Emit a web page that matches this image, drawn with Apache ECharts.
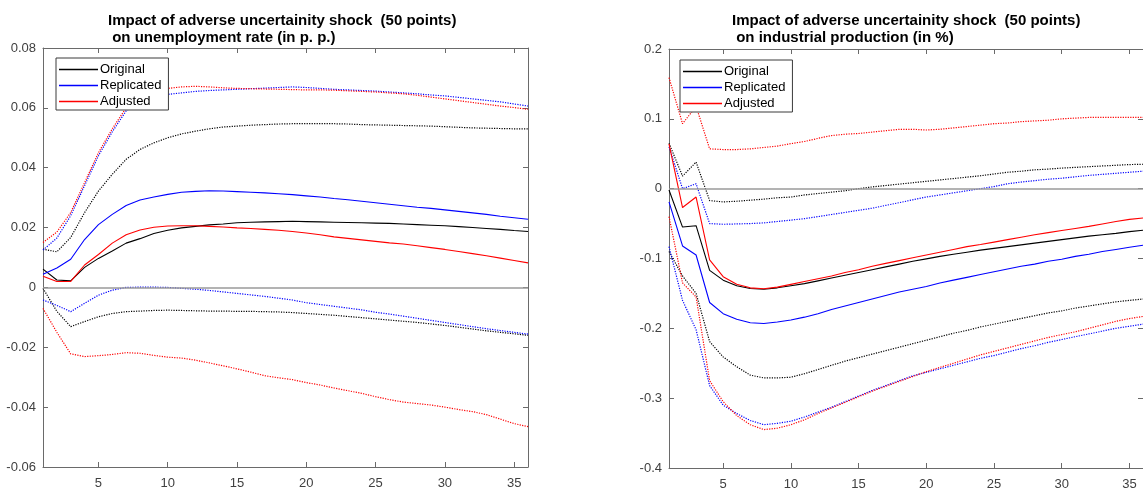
<!DOCTYPE html>
<html>
<head>
<meta charset="utf-8">
<script src="https://cdn.jsdelivr.net/npm/echarts@6/dist/echarts.min.js"></script>
<style>
  html, body { margin: 0; padding: 0; background: #fff; }
  #chart { width: 1143px; height: 491px; }
</style>
</head>
<body>
<div id="chart"></div>
<script>
// Horizon (months after the shock)
const periods = [1,2,3,4,5,6,7,8,9,10,11,12,13,14,15,16,17,18,19,20,21,22,23,24,25,26,27,28,29,30,31,32,33,34,35,36];
const xTickValues = [5,10,15,20,25,30,35];
const legendNames = ['Original', 'Replicated', 'Adjusted'];

// Unemployment rate response (p. p.)
const unempOriginal = [0.0061,0.0025,0.0022,0.0067,0.0097,0.0122,0.0148,0.0163,0.0180,0.0191,0.0199,0.0204,0.0209,0.0212,0.0216,0.0218,0.0219,0.0220,0.0221,0.0220,0.0219,0.0218,0.0217,0.0216,0.0215,0.0214,0.0212,0.0210,0.0208,0.0206,0.0203,0.0200,0.0197,0.0194,0.0190,0.0187];
const unempOriginalHi = [0.0128,0.0119,0.0167,0.0250,0.0322,0.0378,0.0428,0.0461,0.0483,0.0500,0.0513,0.0522,0.0530,0.0536,0.0539,0.0542,0.0544,0.0546,0.0547,0.0547,0.0547,0.0547,0.0546,0.0544,0.0543,0.0542,0.0541,0.0540,0.0539,0.0537,0.0535,0.0533,0.0532,0.0531,0.0530,0.0530];
const unempOriginalLo = [-0.0003,-0.0080,-0.0131,-0.0114,-0.0098,-0.0087,-0.0081,-0.0079,-0.0077,-0.0076,-0.0077,-0.0078,-0.0079,-0.0079,-0.0080,-0.0080,-0.0081,-0.0082,-0.0084,-0.0087,-0.0090,-0.0093,-0.0097,-0.0101,-0.0105,-0.0109,-0.0113,-0.0117,-0.0122,-0.0127,-0.0133,-0.0139,-0.0145,-0.0150,-0.0155,-0.0160];
const unempReplicated = [0.0044,0.0065,0.0094,0.0160,0.0210,0.0244,0.0274,0.0292,0.0302,0.0311,0.0318,0.0321,0.0323,0.0322,0.0320,0.0318,0.0316,0.0313,0.0310,0.0306,0.0302,0.0297,0.0293,0.0288,0.0283,0.0278,0.0273,0.0268,0.0264,0.0259,0.0254,0.0249,0.0244,0.0238,0.0233,0.0228];
const unempReplicatedHi = [0.0125,0.0165,0.0240,0.0340,0.0440,0.0520,0.0590,0.0625,0.0640,0.0645,0.0650,0.0655,0.0658,0.0660,0.0662,0.0664,0.0666,0.0668,0.0670,0.0668,0.0665,0.0662,0.0660,0.0658,0.0656,0.0653,0.0650,0.0647,0.0643,0.0640,0.0635,0.0630,0.0625,0.0620,0.0613,0.0606];
const unempReplicatedLo = [-0.0042,-0.0060,-0.0081,-0.0053,-0.0026,-0.0009,0.0000,0.0001,0.0001,0.0000,-0.0003,-0.0006,-0.0010,-0.0015,-0.0020,-0.0025,-0.0030,-0.0036,-0.0042,-0.0051,-0.0057,-0.0063,-0.0069,-0.0075,-0.0083,-0.0089,-0.0096,-0.0103,-0.0110,-0.0117,-0.0124,-0.0131,-0.0138,-0.0144,-0.0150,-0.0156];
const unempAdjusted = [0.0037,0.0020,0.0020,0.0075,0.0110,0.0148,0.0176,0.0192,0.0201,0.0205,0.0206,0.0206,0.0204,0.0202,0.0199,0.0197,0.0194,0.0191,0.0187,0.0182,0.0176,0.0169,0.0164,0.0159,0.0154,0.0149,0.0145,0.0139,0.0133,0.0127,0.0120,0.0113,0.0106,0.0098,0.0090,0.0082];
const unempAdjustedHi = [0.0150,0.0185,0.0250,0.0350,0.0450,0.0530,0.0600,0.0635,0.0655,0.0665,0.0670,0.0672,0.0670,0.0667,0.0665,0.0664,0.0663,0.0662,0.0661,0.0660,0.0660,0.0659,0.0657,0.0655,0.0653,0.0650,0.0647,0.0642,0.0636,0.0630,0.0624,0.0618,0.0612,0.0606,0.0601,0.0595];
const unempAdjustedLo = [-0.0070,-0.0150,-0.0222,-0.0231,-0.0228,-0.0224,-0.0218,-0.0220,-0.0227,-0.0233,-0.0236,-0.0243,-0.0252,-0.0262,-0.0272,-0.0283,-0.0295,-0.0302,-0.0308,-0.0318,-0.0326,-0.0336,-0.0345,-0.0354,-0.0365,-0.0375,-0.0383,-0.0388,-0.0393,-0.0400,-0.0408,-0.0415,-0.0425,-0.0440,-0.0455,-0.0465];

// Industrial production response (%)
const ipOriginal = [-0.002,-0.055,-0.053,-0.117,-0.131,-0.139,-0.143,-0.144,-0.142,-0.139,-0.136,-0.132,-0.128,-0.124,-0.120,-0.116,-0.112,-0.108,-0.104,-0.1005,-0.097,-0.094,-0.091,-0.088,-0.0855,-0.083,-0.0805,-0.078,-0.0755,-0.073,-0.0705,-0.068,-0.066,-0.064,-0.0615,-0.0595];
const ipOriginalHi = [0.065,0.018,0.038,-0.017,-0.019,-0.018,-0.0165,-0.015,-0.013,-0.012,-0.009,-0.007,-0.005,-0.003,0.000,0.0025,0.0045,0.0065,0.0085,0.0105,0.0125,0.0145,0.0165,0.0185,0.021,0.0235,0.025,0.027,0.028,0.0295,0.0305,0.0315,0.0325,0.0335,0.0345,0.035];
const ipOriginalLo = [-0.090,-0.125,-0.150,-0.219,-0.241,-0.255,-0.267,-0.271,-0.271,-0.270,-0.265,-0.259,-0.253,-0.247,-0.242,-0.237,-0.232,-0.227,-0.222,-0.217,-0.212,-0.207,-0.203,-0.198,-0.194,-0.190,-0.186,-0.182,-0.178,-0.175,-0.171,-0.168,-0.165,-0.162,-0.160,-0.158];
const ipReplicated = [-0.019,-0.082,-0.095,-0.163,-0.179,-0.187,-0.192,-0.193,-0.191,-0.188,-0.184,-0.179,-0.173,-0.168,-0.163,-0.158,-0.153,-0.148,-0.144,-0.140,-0.135,-0.131,-0.127,-0.123,-0.119,-0.115,-0.111,-0.108,-0.104,-0.101,-0.097,-0.094,-0.090,-0.087,-0.084,-0.081];
const ipReplicatedHi = [0.060,0.000,0.007,-0.050,-0.051,-0.0505,-0.050,-0.049,-0.047,-0.045,-0.043,-0.040,-0.037,-0.034,-0.031,-0.028,-0.024,-0.020,-0.016,-0.012,-0.009,-0.006,-0.003,0.000,0.003,0.007,0.0095,0.0115,0.0135,0.015,0.017,0.019,0.0205,0.022,0.0235,0.025];
const ipReplicatedLo = [-0.083,-0.160,-0.202,-0.282,-0.310,-0.322,-0.332,-0.338,-0.336,-0.333,-0.327,-0.320,-0.313,-0.305,-0.297,-0.289,-0.282,-0.275,-0.268,-0.263,-0.258,-0.253,-0.248,-0.243,-0.239,-0.234,-0.229,-0.225,-0.220,-0.216,-0.212,-0.208,-0.204,-0.200,-0.197,-0.194];
const ipAdjusted = [0.064,-0.027,-0.012,-0.102,-0.126,-0.137,-0.142,-0.1433,-0.141,-0.137,-0.133,-0.129,-0.125,-0.120,-0.116,-0.111,-0.107,-0.103,-0.099,-0.095,-0.091,-0.087,-0.083,-0.080,-0.0765,-0.073,-0.0695,-0.066,-0.063,-0.060,-0.057,-0.054,-0.0505,-0.047,-0.044,-0.042];
const ipAdjustedHi = [0.159,0.093,0.118,0.057,0.056,0.056,0.057,0.059,0.061,0.0645,0.0675,0.072,0.076,0.078,0.079,0.081,0.083,0.085,0.085,0.084,0.085,0.087,0.089,0.091,0.093,0.094,0.096,0.097,0.098,0.100,0.101,0.102,0.102,0.102,0.102,0.102];
const ipAdjustedLo = [-0.040,-0.135,-0.155,-0.275,-0.305,-0.325,-0.338,-0.345,-0.343,-0.338,-0.331,-0.322,-0.314,-0.306,-0.298,-0.290,-0.283,-0.276,-0.269,-0.262,-0.256,-0.250,-0.244,-0.238,-0.233,-0.228,-0.223,-0.218,-0.213,-0.209,-0.205,-0.200,-0.195,-0.190,-0.186,-0.183];

const FONT = 'Liberation Sans, Arial, sans-serif';
const AXIS_COLOR = '#6a6a6a';
const LABEL_COLOR = '#404040';
const COLORS = { Original: '#000000', Replicated: '#0000ff', Adjusted: '#ff0000' };

function toPoints(values) {
  return periods.map((p, i) => [p, values[i]]);
}

function lineSeries(name, color, values, dotted, panel) {
  return {
    type: 'line',
    name: name,
    xAxisIndex: panel * 2,
    yAxisIndex: panel * 2,
    data: toPoints(values),
    symbol: 'none',
    showSymbol: false,
    animation: false,
    silent: true,
    z: dotted ? 2 : 3,
    itemStyle: { color: color },
    lineStyle: dotted
      ? { color: color, width: 1.2, type: [1.2, 1.3] }
      : { color: color, width: 1.1, type: 'solid' }
  };
}

function zeroLine(panel) {
  return {
    type: 'line',
    name: 'zero',
    xAxisIndex: panel * 2,
    yAxisIndex: panel * 2,
    data: [],
    symbol: 'none',
    animation: false,
    silent: true,
    z: 1,
    markLine: {
      silent: true,
      symbol: 'none',
      animation: false,
      label: { show: false },
      lineStyle: { color: '#9a9a9a', width: 1.6, type: 'solid' },
      data: [{ yAxis: 0 }]
    }
  };
}

function panelAxes(panel, yMin, yMax, yStep, decimals) {
  const xMain = {
    type: 'value', gridIndex: panel, min: 1, max: 36, position: 'bottom',
    axisLine: { show: true, onZero: false, lineStyle: { color: AXIS_COLOR, width: 1 } },
    axisTick: { show: true, inside: true, length: 5, customValues: xTickValues, lineStyle: { color: AXIS_COLOR } },
    axisLabel: { show: true, customValues: xTickValues, margin: 10, color: LABEL_COLOR, fontFamily: FONT, fontSize: 13 },
    splitLine: { show: false }
  };
  const xMirror = {
    type: 'value', gridIndex: panel, min: 1, max: 36, position: 'top',
    axisLine: { show: true, onZero: false, lineStyle: { color: AXIS_COLOR, width: 1 } },
    axisTick: { show: true, inside: true, length: 5, customValues: xTickValues, lineStyle: { color: AXIS_COLOR } },
    axisLabel: { show: false },
    splitLine: { show: false }
  };
  const fmt = v => (Math.abs(v) < 1e-9 ? '0' : v.toFixed(decimals));
  const yMain = {
    type: 'value', gridIndex: panel, min: yMin, max: yMax, interval: yStep, position: 'left',
    axisLine: { show: true, onZero: false, lineStyle: { color: AXIS_COLOR, width: 1 } },
    axisTick: { show: true, inside: true, length: 5, lineStyle: { color: AXIS_COLOR } },
    axisLabel: { show: true, margin: 7, color: LABEL_COLOR, fontFamily: FONT, fontSize: 13, formatter: fmt },
    splitLine: { show: false }
  };
  const yMirror = {
    type: 'value', gridIndex: panel, min: yMin, max: yMax, interval: yStep, position: 'right',
    axisLine: { show: true, onZero: false, lineStyle: { color: AXIS_COLOR, width: 1 } },
    axisTick: { show: true, inside: true, length: 5, lineStyle: { color: AXIS_COLOR } },
    axisLabel: { show: false },
    splitLine: { show: false }
  };
  return { x: [xMain, xMirror], y: [yMain, yMirror] };
}

const leftAxes = panelAxes(0, -0.06, 0.08, 0.02, 2);
const rightAxes = panelAxes(1, -0.4, 0.2, 0.1, 1);

const titleStyle = { fontFamily: FONT, fontSize: 15, fontWeight: 'bold', color: '#000', lineHeight: 17 };
const legendBase = {
  orient: 'vertical',
  data: legendNames,
  icon: 'rect',
  itemWidth: 39,
  itemHeight: 1.4,
  itemGap: 3,
  padding: [5, 7, 2, 3],
  backgroundColor: '#fff',
  borderColor: '#3a3a3a',
  borderWidth: 1,
  borderRadius: 0,
  selectedMode: false,
  textStyle: { fontFamily: FONT, fontSize: 13, color: '#000', padding: [0, 0, 0, -3] }
};

const series = [
  zeroLine(0),
  lineSeries('Original upper', COLORS.Original, unempOriginalHi, true, 0),
  lineSeries('Original lower', COLORS.Original, unempOriginalLo, true, 0),
  lineSeries('Replicated upper', COLORS.Replicated, unempReplicatedHi, true, 0),
  lineSeries('Replicated lower', COLORS.Replicated, unempReplicatedLo, true, 0),
  lineSeries('Adjusted upper', COLORS.Adjusted, unempAdjustedHi, true, 0),
  lineSeries('Adjusted lower', COLORS.Adjusted, unempAdjustedLo, true, 0),
  lineSeries('Original', COLORS.Original, unempOriginal, false, 0),
  lineSeries('Replicated', COLORS.Replicated, unempReplicated, false, 0),
  lineSeries('Adjusted', COLORS.Adjusted, unempAdjusted, false, 0),

  zeroLine(1),
  lineSeries('Original upper', COLORS.Original, ipOriginalHi, true, 1),
  lineSeries('Original lower', COLORS.Original, ipOriginalLo, true, 1),
  lineSeries('Replicated upper', COLORS.Replicated, ipReplicatedHi, true, 1),
  lineSeries('Replicated lower', COLORS.Replicated, ipReplicatedLo, true, 1),
  lineSeries('Adjusted upper', COLORS.Adjusted, ipAdjustedHi, true, 1),
  lineSeries('Adjusted lower', COLORS.Adjusted, ipAdjustedLo, true, 1),
  lineSeries('Original', COLORS.Original, ipOriginal, false, 1),
  lineSeries('Replicated', COLORS.Replicated, ipReplicated, false, 1),
  lineSeries('Adjusted', COLORS.Adjusted, ipAdjusted, false, 1)
];

const chart = echarts.init(document.getElementById('chart'), null, { renderer: 'canvas' });
chart.setOption({
  backgroundColor: '#ffffff',
  animation: false,
  title: [
    { text: 'Impact of adverse uncertainity shock  (50 points)\n on unemployment rate (in p. p.)', left: 108, top: 12, padding: 0, textStyle: titleStyle },
    { text: 'Impact of adverse uncertainity shock  (50 points)\n on industrial production (in %)', left: 732, top: 12, padding: 0, textStyle: titleStyle }
  ],
  legend: [
    Object.assign({}, legendBase, { left: 56, top: 58 }),
    Object.assign({}, legendBase, { left: 680, top: 60 })
  ],
  grid: [
    { left: 43, top: 48, width: 485, height: 419, show: false },
    { left: 669, top: 49, width: 483, height: 419, show: false }
  ],
  xAxis: [leftAxes.x[0], leftAxes.x[1], rightAxes.x[0], rightAxes.x[1]],
  yAxis: [leftAxes.y[0], leftAxes.y[1], rightAxes.y[0], rightAxes.y[1]],
  series: series
});
</script>
</body>
</html>
